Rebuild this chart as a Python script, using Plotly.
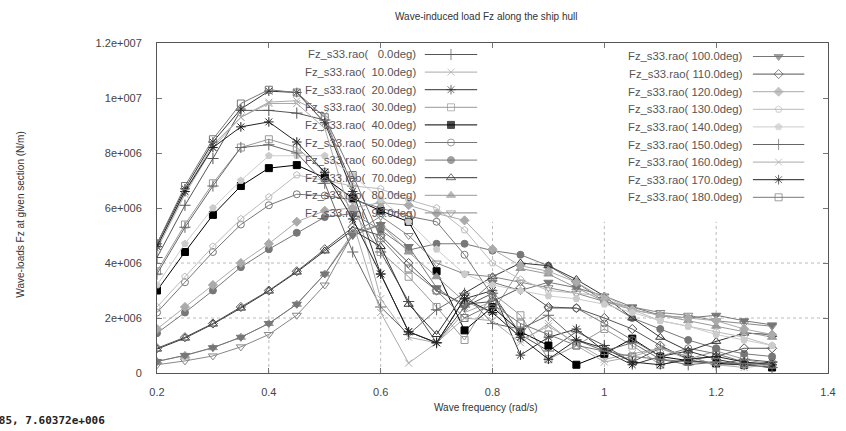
import plotly.graph_objects as go

# ---------------- data ----------------
freq = [0.2, 0.25, 0.3, 0.35, 0.4, 0.45, 0.5, 0.55, 0.6, 0.65, 0.7, 0.75,
        0.8, 0.85, 0.9, 0.95, 1.0, 1.05, 1.1, 1.15, 1.2, 1.25, 1.3]

headings = [0, 10, 20, 30, 40, 50, 60, 70, 80, 90,
            100, 110, 120, 130, 140, 150, 160, 170, 180]

# values in 1e6 N/m
fz_000 = [4.2, 6.1, 7.8, 9.55, 9.55, 9.45, 9.2, 6.8, 4.4, 2.6, 1.1, 2.4, 2.9, 1.4, 0.8, 1.5, 1.0, 0.4, 0.9, 0.6, 0.3, 0.5, 0.4]
fz_010 = [4.6, 6.6, 8.3, 9.3, 9.85, 9.9, 9.4, 6.5, 2.7, 1.3, 1.1, 2.2, 2.6, 1.2, 1.7, 1.1, 0.5, 0.7, 0.9, 0.5, 0.3, 0.3, 0.35]
fz_020 = [4.7, 6.7, 8.4, 9.6, 10.25, 10.2, 9.1, 6.6, 3.6, 1.5, 1.1, 2.7, 3.0, 0.65, 1.3, 1.6, 0.8, 0.3, 0.6, 0.8, 0.5, 0.3, 0.4]
fz_030 = [3.7, 5.4, 6.9, 8.2, 8.5, 8.2, 7.3, 5.9, 4.4, 3.5, 2.4, 1.2, 2.9, 2.1, 0.5, 1.0, 1.6, 1.0, 0.3, 0.5, 0.8, 0.5, 0.3]
fz_040 = [3.0, 4.4, 5.75, 6.8, 7.45, 7.56, 7.1, 6.35, 5.9, 5.5, 3.7, 1.55, 2.4, 1.5, 1.0, 0.3, 0.7, 1.25, 0.6, 0.45, 0.35, 0.3, 0.2]
fz_050 = [2.2, 3.3, 4.4, 5.4, 6.1, 6.5, 6.45, 6.3, 6.0, 5.7, 5.5, 4.3, 2.8, 1.45, 2.36, 2.36, 1.8, 1.2, 0.6, 0.9, 0.7, 0.4, 0.3]
fz_060 = [1.45, 2.2, 3.0, 3.85, 4.5, 5.1, 5.67, 5.8, 5.2, 4.47, 4.7, 4.7, 4.45, 4.3, 3.9, 3.3, 2.6, 2.0, 1.6, 1.2, 0.9, 0.7, 0.6]
fz_070 = [0.87, 1.27, 1.78, 2.36, 2.98, 3.67, 4.44, 5.2, 4.6, 2.5, 1.4, 2.9, 3.5, 4.0, 3.9, 3.4, 2.8, 2.0, 1.3, 0.8, 1.15, 1.45, 1.4]
fz_080 = [0.42, 0.64, 0.92, 1.3, 1.8, 2.5, 3.6, 5.1, 5.4, 4.4, 3.5, 2.6, 2.2, 3.8, 3.6, 3.1, 2.6, 2.3, 2.1, 1.9, 1.7, 1.5, 1.3]
fz_090 = [0.3, 0.44, 0.62, 0.95, 1.4, 2.1, 3.2, 5.05, 5.7, 5.0, 4.0, 3.6, 3.5, 3.3, 3.1, 2.9, 2.6, 2.4, 2.2, 2.1, 1.9, 1.8, 1.7]
fz_100 = [0.42, 0.64, 0.92, 1.3, 1.8, 2.5, 3.6, 5.0, 5.4, 4.6, 3.1, 2.4, 3.3, 3.0, 3.3, 3.1, 2.8, 2.4, 2.1, 2.0, 2.1, 1.9, 1.75]
fz_110 = [0.9, 1.3, 1.8, 2.4, 3.0, 3.7, 4.5, 5.3, 5.0, 4.0, 3.0, 2.5, 2.6, 3.1, 2.4, 2.36, 2.0, 1.6, 1.0, 0.5, 0.6, 0.9, 0.9]
fz_120 = [1.6, 2.4, 3.2, 4.0, 4.7, 5.5, 5.9, 6.0, 6.2, 6.1, 5.8, 5.55, 4.5, 3.9, 3.7, 3.3, 2.7, 2.3, 2.1, 2.0, 1.9, 1.6, 1.4]
fz_130 = [2.4, 3.5, 4.6, 5.6, 6.4, 7.2, 7.0, 6.8, 6.7, 6.3, 6.0, 5.2, 4.0, 3.4, 3.0, 2.9, 2.8, 2.3, 1.9, 1.7, 1.5, 1.3, 1.0]
fz_140 = [3.2, 4.7, 6.0, 7.0, 7.9, 7.9, 7.9, 7.2, 6.3, 5.5, 4.5, 3.6, 3.2, 3.0, 2.8, 2.7, 2.5, 2.2, 1.9, 1.7, 1.4, 1.2, 1.0]
fz_150 = [3.6, 5.3, 6.8, 8.2, 8.3, 8.0, 6.9, 4.4, 2.4, 1.4, 2.3, 2.9, 1.8, 1.6, 2.1, 1.2, 0.8, 1.1, 0.5, 0.3, 0.4, 0.3, 0.2]
fz_160 = [4.5, 6.5, 8.2, 9.3, 9.8, 9.8, 8.9, 5.5, 2.2, 0.36, 1.1, 2.0, 1.9, 1.1, 1.8, 1.0, 0.4, 0.6, 0.9, 0.6, 0.3, 0.2, 0.3]
fz_170 = [4.6, 6.6, 8.2, 8.95, 9.13, 8.4, 7.3, 5.6, 3.6, 1.5, 1.1, 2.7, 2.2, 1.3, 0.5, 1.2, 0.9, 0.4, 0.3, 0.5, 0.6, 0.4, 0.3]
fz_180 = [4.7, 6.8, 8.5, 9.8, 10.3, 10.2, 9.3, 7.2, 4.9, 3.8, 3.0, 2.0, 2.5, 1.8, 1.4, 1.0, 0.8, 0.6, 0.5, 0.4, 0.4, 0.35, 0.3]

series = [fz_000, fz_010, fz_020, fz_030, fz_040, fz_050, fz_060, fz_070, fz_080, fz_090,
          fz_100, fz_110, fz_120, fz_130, fz_140, fz_150, fz_160, fz_170, fz_180]

x_ticks = [0.2, 0.4, 0.6, 0.8, 1.0, 1.2, 1.4]
x_ticklabels = ["0.2", "0.4", "0.6", "0.8", "1", "1.2", "1.4"]
y_ticks = [0, 2e6, 4e6, 6e6, 8e6, 1e7, 1.2e7]
y_ticklabels = ["0", "2e+006", "4e+006", "6e+006", "8e+006", "1e+007", "1.2e+007"]

# ---------------- styles ----------------
colors = ["#555555", "#aaaaaa", "#333333", "#999999", "#000000", "#777777", "#777777",
          "#333333", "#999999", "#888888", "#777777", "#555555", "#aaaaaa", "#bbbbbb",
          "#cccccc", "#666666", "#aaaaaa", "#222222", "#777777"]
symbols = ["cross-thin-open", "x-thin-open", "asterisk-open", "square-open", "square",
           "circle-open", "circle", "triangle-up-open", "triangle-up", "triangle-down-open",
           "triangle-down", "diamond-open", "diamond", "pentagon-open", "pentagon",
           "cross-thin-open", "x-thin-open", "asterisk-open", "square-open"]
sizes = [8, 7, 8, 7, 7, 7, 7, 8, 8, 8, 8, 7, 7, 7, 7, 8, 7, 8, 7]

W, H = 846, 431
L, R, T, B = 157, 836, 43, 373
FONT = "Liberation Sans, Arial"

fig = go.Figure()

for i, (hd, vals) in enumerate(zip(headings, series)):
    c = colors[i]
    fig.add_trace(go.Scatter(
        x=freq, y=[v * 1e6 for v in vals], mode="lines+markers",
        line=dict(color=c, width=1),
        marker=dict(symbol=symbols[i], size=sizes[i], color=c,
                    line=dict(color=c, width=1)),
        showlegend=False, xaxis="x", yaxis="y"))

# ---------------- manual key (gnuplot style) ----------------
def px2x(px):
    return (px - L) / (R - L)

def py2y(py):
    return (B - py) / (B - T)

annotations = []
key_cols = [
    dict(idx=range(0, 10), text_right=421, l0=428, l1=481, y0=54.5),
    dict(idx=range(10, 19), text_right=752, l0=760, l1=812, y0=56.5),
]
step = 17.6
for col in key_cols:
    for r, i in enumerate(col["idx"]):
        py = col["y0"] + r * step
        hd = headings[i]
        label = "Fz_s33.rao(" + ("%6.1f" % hd).replace(" ", "\u00a0") + "deg)"
        annotations.append(dict(
            x=px2x(col["text_right"]), y=py2y(py), xref="paper", yref="paper",
            text=label, showarrow=False, xanchor="right", yanchor="middle",
            font=dict(family=FONT, size=11.3, color="#555555")))
        c = colors[i]
        fig.add_trace(go.Scatter(
            x=[px2x(col["l0"]), px2x((col["l0"] + col["l1"]) / 2), px2x(col["l1"])],
            y=[py2y(py)] * 3, mode="lines+markers",
            line=dict(color=c, width=1),
            marker=dict(symbol=symbols[i], size=[0, sizes[i], 0], color=c,
                        line=dict(color=c, width=1)),
            showlegend=False, xaxis="x2", yaxis="y2", hoverinfo="skip"))

# title & axis titles
annotations.append(dict(x=px2x(490), y=py2y(17), xref="paper", yref="paper",
                        text="Wave-induced load Fz along the ship hull", showarrow=False,
                        xanchor="center", yanchor="middle",
                        font=dict(family=FONT, size=10, color="#333333")))
annotations.append(dict(x=px2x(490), y=py2y(407), xref="paper", yref="paper",
                        text="Wave frequency (rad/s)", showarrow=False,
                        xanchor="center", yanchor="middle",
                        font=dict(family=FONT, size=10, color="#333333")))
annotations.append(dict(x=px2x(18), y=py2y(215), xref="paper", yref="paper",
                        text="Wave-loads Fz at given section (N/m)", showarrow=False,
                        textangle=-90, xanchor="center", yanchor="middle",
                        font=dict(family=FONT, size=10, color="#333333")))
annotations.append(dict(x=px2x(106), y=py2y(420), xref="paper", yref="paper",
                        text="<b>0.385, 7.60372e+006</b>", showarrow=False,
                        xanchor="right", yanchor="middle",
                        font=dict(family="DejaVu Sans Mono", size=11, color="#222222")))

# grid (dotted, lower region as visible)
shapes = []
grid_col = "#bbbbbb"
for yv in [2e6, 4e6]:
    shapes.append(dict(type="line", xref="x", yref="y", x0=0.2, x1=1.4, y0=yv, y1=yv,
                       line=dict(color=grid_col, width=1, dash="dot"), layer="below"))
for xv in [0.4, 0.6, 0.8, 1.0, 1.2]:
    shapes.append(dict(type="line", xref="x", yref="y", x0=xv, x1=xv, y0=0, y1=5.5e6,
                       line=dict(color=grid_col, width=1, dash="dot"), layer="below"))

fig.update_layout(
    width=W, height=H,
    margin=dict(l=L, r=W - R, t=T, b=H - B),
    paper_bgcolor="white", plot_bgcolor="white",
    showlegend=False,
    annotations=annotations,
    shapes=shapes,
    xaxis=dict(range=[0.2, 1.4], tickvals=x_ticks, ticktext=x_ticklabels,
               showgrid=False, zeroline=False, showline=True, linecolor="#555555",
               linewidth=1, mirror="allticks", ticks="inside", ticklen=5,
               tickcolor="#777777", ticklabelstandoff=9,
               tickfont=dict(family=FONT, size=11, color="#444444")),
    yaxis=dict(range=[0, 1.2e7], tickvals=y_ticks, ticktext=y_ticklabels,
               showgrid=False, zeroline=False, showline=True, linecolor="#555555",
               linewidth=1, mirror="allticks", ticks="inside", ticklen=5,
               tickcolor="#777777", ticklabelstandoff=12,
               tickfont=dict(family=FONT, size=11, color="#444444")),
    xaxis2=dict(range=[0, 1], domain=[0, 1], anchor="y2", overlaying="x",
                visible=False, fixedrange=True),
    yaxis2=dict(range=[0, 1], domain=[0, 1], anchor="x2", overlaying="y",
                visible=False, fixedrange=True),
)

fig.write_html("out.html")
